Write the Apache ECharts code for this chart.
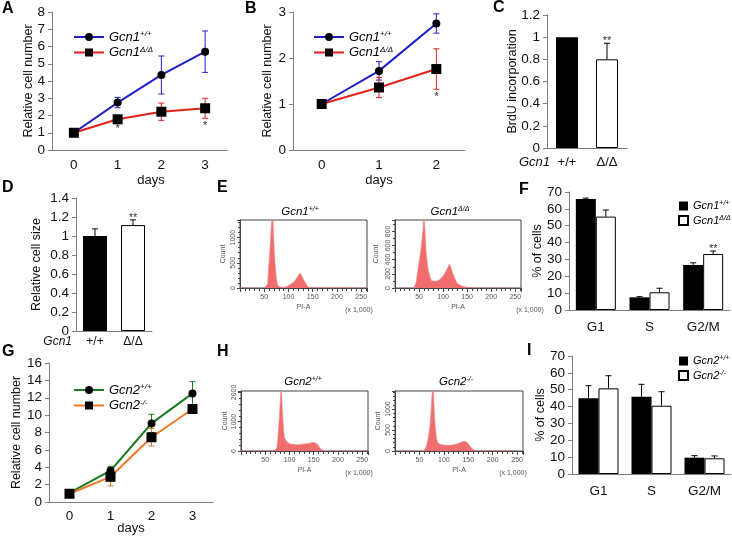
<!DOCTYPE html>
<html><head><meta charset="utf-8">
<script src="https://cdn.jsdelivr.net/npm/echarts@6/dist/echarts.min.js"></script>
<style>html,body{margin:0;padding:0;background:#fff}#c{width:732px;height:536px}</style>
</head><body><div id="c"></div>
<script>
// ---------------- data ----------------
const daysA = ['0', '1', '2', '3'];
const aWt = [1, 2.75, 4.35, 5.7];
const aWtErr = [0.05, 0.3, 1.1, 1.2];
const aKo = [1, 1.78, 2.22, 2.42];
const aKoErr = [0.05, 0.12, 0.5, 0.58];
const aSig = ['', '*', '', '*'];

const daysB = ['0', '1', '2'];
const bWt = [1, 1.72, 2.75];
const bWtErr = [0.03, 0.2, 0.21];
const bKo = [1, 1.36, 1.76];
const bKoErr = [0.03, 0.22, 0.44];
const bSig = ['', '', '*'];

const genotypes = ['+/+', 'Δ/Δ'];
const cVal = [1, 0.8];
const cErr = [0, 0.145];
const cSig = ['', '**'];

const dVal = [1.0, 1.115];
const dErr = [0.075, 0.055];
const dSig = ['', '**'];

const phases = ['G1', 'S', 'G2/M'];
const fWt = [65.8, 7.5, 26.7];
const fWtErr = [0.6, 0.4, 1.3];
const fKo = [55.4, 10.5, 33.2];
const fKoErr = [3.9, 2.4, 1.8];
const fSig = ['', '', '**'];

const daysG = ['0', '1', '2', '3'];
const gWt = [1.05, 3.6, 9.05, 12.5];
const gWtErr = [0.1, 0.5, 1.05, 1.35];
const gKo = [0.95, 2.9, 7.45, 10.7];
const gKoErr = [0.1, 1.05, 1.0, 0.25];

const iWt = [44.9, 45.9, 9.7];
const iWtErr = [7.5, 7.3, 1.2];
const iKo = [50.8, 40.5, 9.3];
const iKoErr = [7.5, 8.3, 1.4];

// flow histograms: [PI-A (x1000), count]
const histE1 = [[0,0],[50,0],[54,0],[57,80],[59,400],[62.5,870],[65,1300],[67,1600],[69,1100],[71.5,600],[74,280],[76,135],[78,50],[80,20],[85,10],[90,15],[97,30],[105,80],[113,135],[119,230],[124,296],[128,230],[133,135],[138,50],[142,10],[146,0],[262,0]];
const histE2 = [[0,0],[35,0],[40,10],[44,80],[48,280],[52,450],[55,610],[58,800],[60,1100],[62,850],[64.5,520],[68,300],[72,170],[76,100],[79,80],[85,95],[93,115],[99.6,165],[106,235],[110,290],[113,340],[116,290],[120,210],[124,140],[127,95],[130,60],[134,38],[140,25],[147,14],[155,8],[161,4],[170,0],[262,0]];
const histH1 = [[0,0],[68,0],[71,10],[74,100],[76,440],[79,1100],[81,1700],[83,2400],[85,1500],[88,680],[90,450],[93,340],[96,280],[100,250],[105,230],[110,220],[115,215],[120,220],[125,225],[130,240],[135,250],[140,260],[145,280],[150,300],[154,290],[157,240],[160,170],[164,80],[168,15],[172,0],[262,0]];
const histH2 = [[0,0],[55,0],[60,20],[64,100],[67,240],[70,450],[72,650],[74,1000],[76,1400],[77,1700],[79,1300],[81,800],[83,480],[85,300],[87.5,200],[92,160],[98,145],[105,140],[112,140],[118,145],[125,160],[132,190],[139,225],[145,225],[150,170],[156,80],[161,30],[166,5],[170,0],[262,0]];

// ---------------- styles ----------------
const FF = '"Liberation Sans", Arial, Helvetica, sans-serif';
const AX = '#7f7f7f';
const BLUE = '#1e1ec8', RED = '#e32119', GREEN = '#1b7a22', ORANGE = '#f07828';
const HIST = '#f16c6c';

const chart = echarts.init(document.getElementById('c'), null, {renderer: 'canvas'});

const frame = {show: true, borderColor: '#444', borderWidth: 1, backgroundColor: 'transparent'};
const grids = [
  {left: 52, top: 12, width: 175, height: 138},   // A
  {left: 293, top: 12, width: 172, height: 138},  // B
  {left: 547, top: 15, width: 80, height: 133},   // C
  {left: 76, top: 198, width: 76, height: 133},   // D
  Object.assign({left: 240, top: 220, width: 127, height: 68}, frame), // E1
  Object.assign({left: 395, top: 220, width: 126, height: 68}, frame), // E2
  {left: 569, top: 192, width: 161, height: 118}, // F
  {left: 49, top: 363, width: 164, height: 139},  // G
  Object.assign({left: 241, top: 391, width: 127, height: 60}, frame), // H1
  Object.assign({left: 395, top: 391, width: 128, height: 60}, frame), // H2
  {left: 572, top: 356, width: 159, height: 118}  // I
].map(g => Object.assign({containLabel: false, outerBoundsMode: 'none'}, g));

function catAxis(gi, data, extra) {
  return Object.assign({
    type: 'category', gridIndex: gi, data: data, nameMoveOverlap: false,
    axisLine: {lineStyle: {color: AX}}, axisTick: {length: 5, lineStyle: {color: AX}},
    axisLabel: {fontFamily: FF, fontSize: 13.5, color: '#111', margin: 8},
    splitLine: {show: false}
  }, extra || {});
}
function valAxis(gi, min, max, interval, name, gap, extra) {
  return Object.assign({
    type: 'value', gridIndex: gi, min: min, max: max, interval: interval, nameMoveOverlap: false,
    axisLine: {show: true, lineStyle: {color: AX}}, axisTick: {show: true, length: 4, lineStyle: {color: AX}},
    axisLabel: {fontFamily: FF, fontSize: 13.5, color: '#111', margin: 7},
    splitLine: {show: false},
    name: name, nameLocation: 'middle', nameGap: gap,
    nameTextStyle: {fontFamily: FF, fontSize: 12.5, color: '#111'}
  }, extra || {});
}
function histX(gi) {
  return {
    type: 'value', gridIndex: gi, min: 0, max: 262, interval: 50, nameMoveOverlap: false,
    axisLine: {show: true, lineStyle: {color: '#444'}},
    axisTick: {show: true, length: 4, lineStyle: {color: '#444'}},
    minorTick: {show: true, splitNumber: 5, length: 3, lineStyle: {color: '#444'}},
    axisLabel: {fontFamily: FF, fontSize: 7, color: '#555', margin: 6,
      formatter: v => (v > 0 && v % 50 === 0) ? String(v) : ''},
    splitLine: {show: false}, minorSplitLine: {show: false},
    name: 'PI-A', nameLocation: 'middle', nameGap: 16,
    nameTextStyle: {fontFamily: FF, fontSize: 7, color: '#555'}
  };
}
function histY(gi, max, interval, minorSplit, gap) {
  return {
    type: 'value', gridIndex: gi, min: 0, max: max, interval: interval, nameMoveOverlap: false,
    axisLine: {show: true, lineStyle: {color: '#444'}},
    axisTick: {show: true, length: 3, lineStyle: {color: '#444'}},
    minorTick: {show: true, splitNumber: minorSplit, length: 2, lineStyle: {color: '#444'}},
    axisLabel: {fontFamily: FF, fontSize: 7, color: '#555', margin: 3, rotate: 90,
      formatter: v => (v % interval === 0) ? String(v) : ''},
    splitLine: {show: false}, minorSplitLine: {show: false},
    name: 'Count', nameLocation: 'middle', nameGap: gap,
    nameTextStyle: {fontFamily: FF, fontSize: 7, color: '#555'}
  };
}

const xAxes = [
  catAxis(0, daysA, {name: 'days', nameLocation: 'middle', nameGap: 24,
    nameTextStyle: {fontFamily: FF, fontSize: 13, color: '#111', padding: [0, 0, 0, 23]}}),
  catAxis(1, daysB, {name: 'days', nameLocation: 'middle', nameGap: 24,
    nameTextStyle: {fontFamily: FF, fontSize: 13, color: '#111'}}),
  catAxis(2, genotypes, {name: 'Gcn1', nameLocation: 'start', nameGap: -3,
    nameTextStyle: {fontFamily: FF, fontSize: 13, fontStyle: 'italic', color: '#111', verticalAlign: 'top', padding: [8, 0, 0, 0]},
    axisLabel: {fontFamily: FF, fontSize: 13, color: '#111', margin: 8}}),
  catAxis(3, genotypes, {name: 'Gcn1', nameLocation: 'start', nameGap: 4,
    nameTextStyle: {fontFamily: FF, fontSize: 12, fontStyle: 'italic', color: '#111', verticalAlign: 'top', padding: [5, 0, 0, 0]},
    axisLabel: {fontFamily: FF, fontSize: 12, color: '#111', margin: 5}}),
  histX(4), histX(5),
  catAxis(6, phases, {axisLabel: {fontFamily: FF, fontSize: 13.5, color: '#111', margin: 10}}),
  catAxis(7, daysG, {name: 'days', nameLocation: 'middle', nameGap: 20,
    nameTextStyle: {fontFamily: FF, fontSize: 13, color: '#111'},
    axisLabel: {fontFamily: FF, fontSize: 13.5, color: '#111', margin: 7}}),
  histX(8), histX(9),
  catAxis(10, phases, {axisLabel: {fontFamily: FF, fontSize: 13.5, color: '#111', margin: 10}})
];
const yAxes = [
  valAxis(0, 0, 8, 1, 'Relative cell number', 17),
  valAxis(1, 0, 3, 1, 'Relative cell number', 19),
  valAxis(2, 0, 1.2, 0.2, 'BrdU incorporation', 28),
  valAxis(3, 0, 1.4, 0.2, 'Relative cell size', 33),
  histY(4, 1350, 500, 5, 13),
  histY(5, 960, 200, 2, 15),
  valAxis(6, 0, 70, 10, '% of cells', 25),
  valAxis(7, 0, 16, 2, 'Relative cell number', 26),
  histY(8, 2050, 1000, 5, 12),
  histY(9, 1430, 500, 5, 13),
  valAxis(10, 0, 70, 10, '% of cells', 25)
];

// ---------------- helpers ----------------
function errSeries(gi, vals, errs, color, both, dx) {
  return {
    type: 'custom', xAxisIndex: gi, yAxisIndex: gi, silent: true, z: 3,
    data: vals.map((v, i) => [i, v, errs[i]]),
    renderItem: (params, api) => {
      const i = api.value(0), v = api.value(1), e = api.value(2);
      if (!e) return null;
      const p = api.coord([i, v]);
      const hi = api.coord([i, v + e]);
      const lo = both ? api.coord([i, v - e]) : p;
      const x = p[0] + (dx || 0);
      const cap = 3;
      const st = {stroke: color, lineWidth: 1};
      const ch = [
        {type: 'line', shape: {x1: x, y1: hi[1], x2: x, y2: lo[1]}, style: st},
        {type: 'line', shape: {x1: x - cap, y1: hi[1], x2: x + cap, y2: hi[1]}, style: st}
      ];
      if (both) ch.push({type: 'line', shape: {x1: x - cap, y1: lo[1], x2: x + cap, y2: lo[1]}, style: st});
      return {type: 'group', children: ch};
    }
  };
}
function sigSeries(gi, vals, errs, sig, below, dx) {
  return {
    type: 'custom', xAxisIndex: gi, yAxisIndex: gi, silent: true, z: 6,
    data: vals.map((v, i) => [i, v, errs[i]]),
    renderItem: (params, api) => {
      const s = sig[params.dataIndex];
      if (!s) return null;
      const i = api.value(0), v = api.value(1), e = api.value(2);
      const p = api.coord([i, below ? v - e : v + e]);
      const y = below ? p[1] + 8 : p[1] - 2;
      return {type: 'text', x: p[0] + (dx || 0), y: y,
        style: {text: s, fill: '#333', font: '11px ' + FF, align: 'center', verticalAlign: 'middle'}};
    }
  };
}
function lineSeries(gi, name, data, color, sym, size) {
  return {type: 'line', name: name, xAxisIndex: gi, yAxisIndex: gi, data: data,
    symbol: sym, symbolSize: size, itemStyle: {color: '#000'},
    lineStyle: {color: color, width: 2}, z: 4, silent: true, animation: false};
}
function histSeries(gi, data) {
  return {type: 'line', xAxisIndex: gi, yAxisIndex: gi, data: data, symbol: 'none',
    lineStyle: {width: 0.6, color: '#f28a8a'}, areaStyle: {color: HIST, opacity: 1},
    clip: true, silent: true, z: 2};
}
const BLACK = {color: '#000'};
const WHITE = {color: '#fff', borderColor: '#000', borderWidth: 1};
function twoBar(gi, vals, w) {
  return {type: 'bar', xAxisIndex: gi, yAxisIndex: gi, barWidth: w, silent: true, z: 2,
    data: vals.map((v, i) => ({value: v, itemStyle: i === 0 ? BLACK : WHITE}))};
}
function groupBar(gi, name, vals, style) {
  return {type: 'bar', name: name, xAxisIndex: gi, yAxisIndex: gi, barWidth: 20, barGap: '0%',
    itemStyle: style, data: vals, silent: true, z: 2};
}

const series = [
  // A
  errSeries(0, aWt, aWtErr, BLUE, true), errSeries(0, aKo, aKoErr, RED, true),
  lineSeries(0, 'Gcn1+/+', aWt, BLUE, 'circle', 8),
  lineSeries(0, 'Gcn1Δ/Δ', aKo, RED, 'rect', 10),
  sigSeries(0, aKo, aKoErr, aSig, true),
  // B
  errSeries(1, bWt, bWtErr, BLUE, true), errSeries(1, bKo, bKoErr, RED, true),
  lineSeries(1, 'Gcn1+/+', bWt, BLUE, 'circle', 8),
  lineSeries(1, 'Gcn1Δ/Δ', bKo, RED, 'rect', 10),
  sigSeries(1, bKo, bKoErr, bSig, true),
  // C
  twoBar(2, cVal, 22), errSeries(2, cVal, cErr, '#000', false), sigSeries(2, cVal, cErr, cSig, false),
  // D
  twoBar(3, dVal, 24), errSeries(3, dVal, dErr, '#000', false), sigSeries(3, dVal, dErr, dSig, false),
  // E
  histSeries(4, histE1), histSeries(5, histE2),
  // F
  groupBar(6, 'bar:Gcn1+/+', fWt, BLACK), groupBar(6, 'bar:Gcn1Δ/Δ', fKo, WHITE),
  errSeries(6, fWt, fWtErr, '#000', false, -10), errSeries(6, fKo, fKoErr, '#000', false, 10),
  sigSeries(6, fKo, fKoErr, fSig, false, 10),
  // G
  errSeries(7, gWt, gWtErr, GREEN, true), errSeries(7, gKo, gKoErr, ORANGE, true),
  lineSeries(7, 'Gcn2+/+', gWt, GREEN, 'circle', 8),
  lineSeries(7, 'Gcn2-/-', gKo, ORANGE, 'rect', 10),
  // H
  histSeries(8, histH1), histSeries(9, histH2),
  // I
  groupBar(10, 'bar:Gcn2+/+', iWt, BLACK), groupBar(10, 'bar:Gcn2-/-', iKo, WHITE),
  errSeries(10, iWt, iWtErr, '#000', false, -10), errSeries(10, iKo, iKoErr, '#000', false, 10)
];

// ---------------- legends ----------------
function richSet(big, small, lh) {
  return {
    g: {fontFamily: FF, fontStyle: 'italic', fontSize: big, lineHeight: lh, color: '#000'},
    s: {fontFamily: FF, fontStyle: 'italic', fontSize: small, lineHeight: small, verticalAlign: 'top', color: '#000'}
  };
}
function legText(name) {
  const n = name.replace('bar:', '');
  return '{g|' + n.slice(0, 4) + '}{s|' + n.slice(4) + '}';
}
function lineLegend(names, left, top) {
  return {data: names, left: left, top: top, orient: 'vertical', itemWidth: 30, itemHeight: 10,
    itemGap: 2, selectedMode: false, formatter: legText,
    textStyle: {rich: richSet(13, 8, 14)}};
}
function barLegend(names, left, top) {
  return {data: names, left: left, top: top, orient: 'vertical', icon: 'rect', itemWidth: 9, itemHeight: 9,
    itemGap: 3, selectedMode: false, formatter: legText,
    textStyle: {rich: richSet(11, 7, 12)}};
}
const legends = [
  lineLegend(['Gcn1+/+', 'Gcn1Δ/Δ'], 68, 25),
  lineLegend(['Gcn1+/+', 'Gcn1Δ/Δ'], 308, 25),
  barLegend(['bar:Gcn1+/+', 'bar:Gcn1Δ/Δ'], 673, 195),
  lineLegend(['Gcn2+/+', 'Gcn2-/-'], 68, 378),
  barLegend(['bar:Gcn2+/+', 'bar:Gcn2-/-'], 673, 350)
];

// ---------------- text ----------------
const letters = [['A', 2, 8.5], ['B', 245, 8.5], ['C', 493, 8], ['D', 2, 188], ['E', 217, 188],
  ['F', 519, 190], ['G', 2, 352], ['H', 217, 352], ['I', 527, 351]];
const histTitles = [['{g|Gcn1}{s|+/+}', 300, 212], ['{g|Gcn1}{s|Δ/Δ}', 450, 212],
  ['{g|Gcn2}{s|+/+}', 303, 382], ['{g|Gcn2}{s|-/-}', 456, 382]];
const scaleNotes = [[359, 310], [530, 310], [359, 473], [513, 473]];
const graphics = [];
letters.forEach(l => graphics.push({type: 'text', x: l[1], y: l[2],
  style: {text: l[0], font: 'bold 16px ' + FF, fill: '#000', verticalAlign: 'middle'}}));
histTitles.forEach(t => graphics.push({type: 'text', x: t[1], y: t[2],
  style: {text: t[0], rich: richSet(11.5, 7, 12), align: 'center', verticalAlign: 'middle'}}));
scaleNotes.forEach(s => graphics.push({type: 'text', x: s[0], y: s[1],
  style: {text: '(x 1,000)', font: '7px ' + FF, fill: '#555', align: 'center', verticalAlign: 'middle'}}));

chart.setOption({
  animation: false,
  backgroundColor: '#fff',
  textStyle: {fontFamily: FF},
  grid: grids,
  xAxis: xAxes,
  yAxis: yAxes,
  legend: legends,
  series: series,
  graphic: graphics
});
</script></body></html>
